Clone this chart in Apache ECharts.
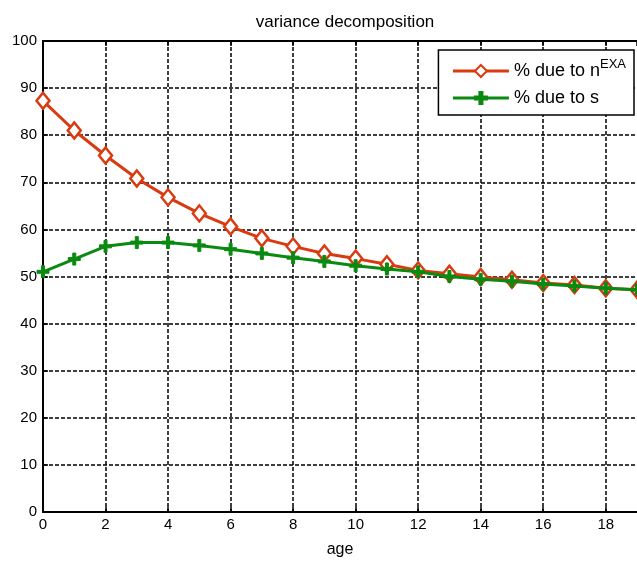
<!DOCTYPE html>
<html>
<head>
<meta charset="utf-8">
<script src="https://cdn.jsdelivr.net/npm/echarts@6/dist/echarts.min.js"></script>
<style>
html,body{margin:0;padding:0;background:#fff;}
#main{width:637px;height:564px;}
</style>
</head>
<body>
<div id="main"></div>
<script>
var ages = [0,1,2,3,4,5,6,7,8,9,10,11,12,13,14,15,16,17,18,19];
var dueToN = [87.3,81.0,75.7,70.8,66.8,63.4,60.6,58.1,56.4,54.9,53.8,52.6,51.3,50.6,49.9,49.3,48.6,48.2,47.5,47.2];
var dueToS = [51.0,53.7,56.4,57.2,57.2,56.6,55.8,54.9,54.0,53.2,52.3,51.6,51.0,50.0,49.4,49.0,48.4,48.0,47.5,47.2];

window.onload = function(){
	var myChart = echarts.init(document.getElementById('main'));
	var plus = 'path://M-1,-4L1,-4L1,-1L4,-1L4,1L1,1L1,4L-1,4L-1,1L-4,1L-4,-1L-1,-1Z';
	myChart.setOption({
		animation: false,
		backgroundColor: '#fff',
		textStyle: {fontFamily: 'Liberation Sans'},
		title: {
			text: 'variance decomposition',
			left: 340,
			top: 9,
			textAlign: 'center',
			textStyle: {fontSize: 17, fontWeight: 'normal', color: '#000'}
		},
		legend: {
			orient: 'vertical',
			right: 3,
			top: 50,
			itemWidth: 56,
			itemHeight: 15,
			itemGap: 9,
			padding: [8, 8, 8, 13],
			borderColor: '#000',
			borderWidth: 1.5,
			backgroundColor: '#fff',
			lineStyle: {width: 3},
			formatter: function(name){
				if (name === 'n') return '{a|% due to n}{sup|EXA}';
				return '{a|% due to s}';
			},
			textStyle: {
				rich: {
					a: {fontSize: 18, color: '#000', fontFamily: 'Liberation Sans', height: 20},
					sup: {fontSize: 13, color: '#000', fontFamily: 'Liberation Sans', padding: [0, 0, 13, 0]}
				}
			},
			data: ['n', 's']
		},
		grid: {left: 43, right: 0, top: 41, bottom: 52},
		xAxis: [{
			type: 'value',
			min: 0,
			max: 19,
			interval: 2,
			name: 'age',
			nameLocation: 'middle',
			nameGap: 30,
			nameTextStyle: {fontSize: 16, color: '#000'},
			axisLine: {lineStyle: {color: '#000', width: 2}},
			axisTick: {inside: true, length: 5, lineStyle: {color: '#000', width: 1.5}},
			axisLabel: {fontSize: 15, color: '#000', margin: 5, showMaxLabel: false},
			splitLine: {show: true, showMaxLine: false, lineStyle: {color: '#000', type: [4, 2], width: 1.5}}
		},{
			type: 'value',
			position: 'top',
			min: 0,
			max: 19,
			interval: 2,
			axisLine: {show: true, lineStyle: {color: '#000', width: 2}},
			axisTick: {show: true, inside: true, length: 5, lineStyle: {color: '#000', width: 1.5}},
			axisLabel: {show: false},
			splitLine: {show: false}
		}],
		yAxis: {
			type: 'value',
			min: 0,
			max: 100,
			interval: 10,
			axisLine: {show: true, lineStyle: {color: '#000', width: 2}},
			axisTick: {show: true, inside: true, length: 5, lineStyle: {color: '#000', width: 1.5}},
			axisLabel: {fontSize: 15, color: '#000', margin: 6},
			splitLine: {show: true, showMaxLine: false, lineStyle: {color: '#000', type: [4, 2], width: 1.5}}
		},
		series: [{
			name: 'n',
			type: 'line',
			data: ages.map(function(a, i){ return [a, dueToN[i]]; }),
			symbol: 'diamond',
			symbolSize: [13, 16],
			lineStyle: {color: '#d93a10', width: 3},
			itemStyle: {color: '#fff', borderColor: '#d93a10', borderWidth: 2.5},
			z: 3
		},{
			name: 's',
			type: 'line',
			data: ages.map(function(a, i){ return [a, dueToS[i]]; }),
			symbol: plus,
			symbolSize: 12,
			lineStyle: {color: '#0a8a10', width: 3},
			itemStyle: {color: '#0a8a10', borderColor: '#0a8a10', borderWidth: 1},
			z: 4
		}]
	});
};
</script>
</body>
</html>
